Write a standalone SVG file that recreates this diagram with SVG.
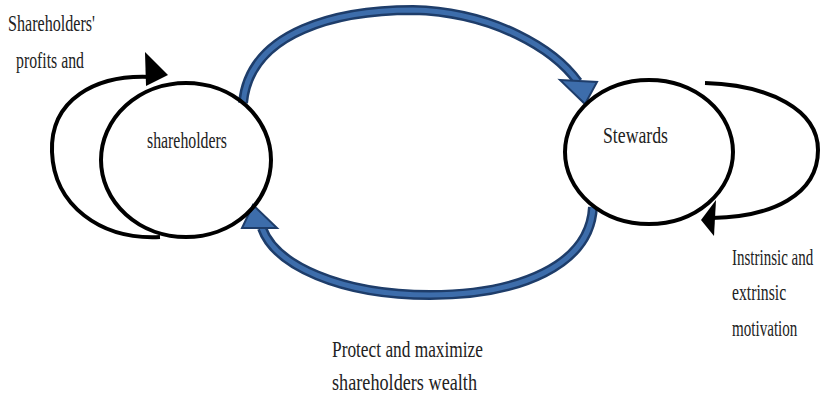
<svg xmlns="http://www.w3.org/2000/svg" width="823" height="403" viewBox="0 0 823 403">
<style>
.node{fill:none;stroke:#000;stroke-width:4}
.loop{fill:none;stroke:#000;stroke-width:4;stroke-linecap:butt}
.head{fill:#000}
.bo{fill:none;stroke:#1e3d6a;stroke-width:10}
.bi{fill:none;stroke:#3d6dab;stroke-width:5}
.bh{fill:#3d6dab;stroke:#1e3d6a;stroke-width:2;stroke-linejoin:miter}
text{font-family:"Liberation Serif","Times New Roman",serif;font-size:23px;fill:#222}
</style>
<rect width="823" height="403" fill="#fff"/>
<g id="connectors">
  <g id="loop-left">
    <path class="loop" d="M 152 77 C 95 74, 50 100, 52 152 C 54 205, 100 240, 160 237"/>
    <polygon class="head" points="145,52 168,75 146,86"/>
  </g>
  <g id="loop-right">
    <path class="loop" d="M 705 83 C 770 85, 818 110, 818 150 C 818 195, 772 217, 712 218"/>
    <polygon class="head" points="716,200 701,220 714,236"/>
  </g>
  <g id="arc-top">
    <path class="bo" d="M 243 103 C 250 30, 340 10, 413 10 C 495 12, 555 50, 578 82"/>
    <path class="bi" d="M 243 103 C 250 30, 340 10, 413 10 C 495 12, 555 50, 578 82"/>
    <polygon class="bh" points="560,80 597,82 585,104"/>
  </g>
  <g id="arc-bottom">
    <path class="bo" d="M 593 207 C 590 265, 520 295, 430 295 C 340 295, 275 265, 262 228"/>
    <path class="bi" d="M 593 207 C 590 265, 520 295, 430 295 C 340 295, 275 265, 262 228"/>
    <polygon class="bh" points="242,228 277,228 253,205"/>
  </g>
</g>
<g id="node-shareholders">
  <ellipse class="node" cx="186" cy="160" rx="85" ry="77"/>
  <text x="147" y="148" textLength="80" lengthAdjust="spacingAndGlyphs">shareholders</text>
</g>
<g id="node-stewards">
  <ellipse class="node" cx="649" cy="152" rx="84" ry="72"/>
  <text x="603" y="143" textLength="65" lengthAdjust="spacingAndGlyphs">Stewards</text>
</g>
<g id="labels">
  <text x="8" y="31" textLength="87" lengthAdjust="spacingAndGlyphs">Shareholders'</text>
  <text x="16" y="68" textLength="68" lengthAdjust="spacingAndGlyphs">profits and</text>
  <text transform="translate(732,265) scale(0.66,1)" textLength="123" lengthAdjust="spacingAndGlyphs">Instrinsic and</text>
  <text transform="translate(732,300) scale(0.66,1)" textLength="82" lengthAdjust="spacingAndGlyphs">extrinsic</text>
  <text transform="translate(732,336) scale(0.66,1)" textLength="99" lengthAdjust="spacingAndGlyphs">motivation</text>
  <text x="332" y="357" textLength="151" lengthAdjust="spacingAndGlyphs">Protect and maximize</text>
  <text x="332" y="390" textLength="145" lengthAdjust="spacingAndGlyphs">shareholders wealth</text>
</g>
</svg>
